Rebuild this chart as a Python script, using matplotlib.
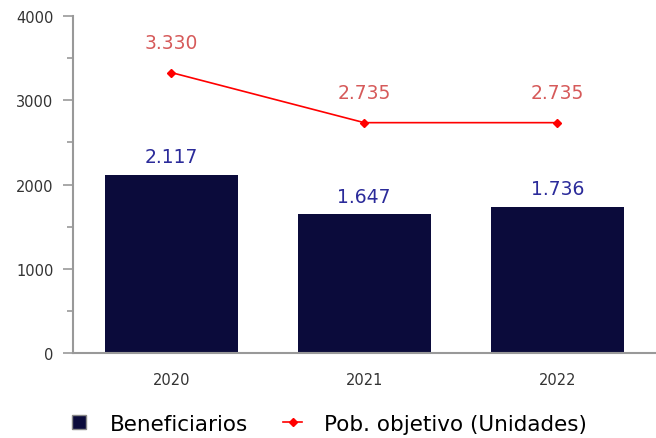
import matplotlib.pyplot as plt
from matplotlib.lines import Line2D
import numpy as np

years = ["2020", "2021", "2022"]
beneficiarios = [2117, 1647, 1736]
pob_objetivo = [3330, 2735, 2735]
benef_labels = ["2.117", "1.647", "1.736"]
pob_labels = ["3.330", "2.735", "2.735"]

bar_color = "#0b0b3b"
line_color = "#ff0000"

fig = plt.figure(figsize=(6.56, 4.39), dpi=100)
ax = fig.add_axes([0.111, 0.1936, 0.887, 0.7674])

x = np.arange(len(years))
ax.bar(x, beneficiarios, width=0.69, color=bar_color, zorder=2)
ax.plot(x, pob_objetivo, color=line_color, marker="D", markersize=4, linewidth=1.2, zorder=3)

for xi, v, t in zip(x, beneficiarios, benef_labels):
    ax.annotate(t, (xi, v), xytext=(0, 6), textcoords="offset points",
                ha="center", va="bottom", color="#2b2b9a", fontsize=13.5)
for xi, v, t in zip(x, pob_objetivo, pob_labels):
    ax.annotate(t, (xi, v), xytext=(0, 15), textcoords="offset points",
                ha="center", va="bottom", color="#d65a5a", fontsize=13.5)

ax.set_xlim(-0.51, 2.505)
ax.set_ylim(0, 4000)
ax.set_xticks(x)
ax.set_xticklabels(years)
ax.set_yticks([0, 1000, 2000, 3000, 4000])
ax.set_yticks([500, 1500, 2500, 3500], minor=True)
ax.tick_params(axis="y", which="major", length=7, width=1.2, color="#999999", pad=7,
               labelsize=10.5, labelcolor="#333333")
ax.tick_params(axis="y", which="minor", length=4, width=1.2, color="#999999")
ax.tick_params(axis="x", length=0, labelsize=10.5, labelcolor="#333333", pad=14)

for s in ["top", "right"]:
    ax.spines[s].set_visible(False)
for s in ["left", "bottom"]:
    ax.spines[s].set_color("#999999")
    ax.spines[s].set_linewidth(1.5)

handles = [
    Line2D([], [], linestyle="none", marker="s", markersize=10, markerfacecolor=bar_color,
           markeredgecolor="#888888"),
    Line2D([], [], color=line_color, marker="D", markersize=4, linewidth=1.2),
]
fig.legend(handles, ["Beneficiarios", "Pob. objetivo (Unidades)"], loc="lower center",
           bbox_to_anchor=(0.5, -0.035), ncol=2, frameon=False, fontsize=15.5,
           handlelength=0.9, handletextpad=1.0, columnspacing=1.6)

fig.savefig("out.png", dpi=100)
